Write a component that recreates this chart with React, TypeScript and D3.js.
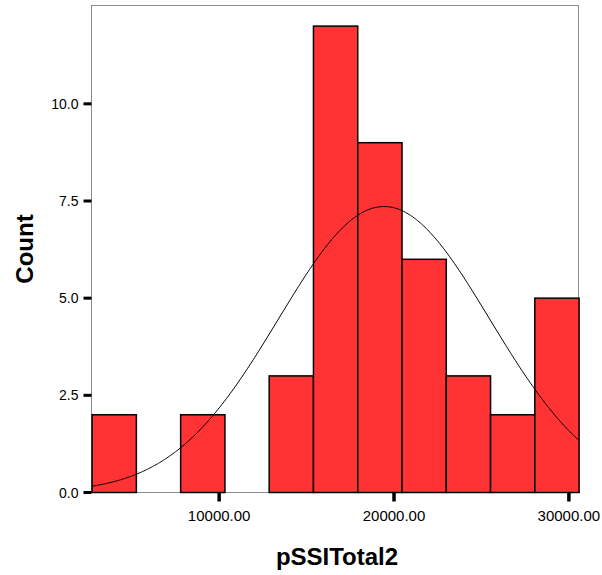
import React from "react";
import * as d3 from "d3";

const binMin = 2700;
const binMax = 30550;
const counts = [2, 0, 2, 0, 3, 12, 9, 6, 3, 2, 5];
const xTicks = [10000, 20000, 30000];
const yTicks = [0, 2.5, 5, 7.5, 10];
const meanValue = 19430;
const sdValue = 6040;
const yMax = 12.53;

const W = 602;
const H = 575;
const L = 91.5, T = 5.5, R = 578.5, B = 492.5;

export default function App() {
  const x = d3.scaleLinear().domain([binMin, binMax]).range([L, R]);
  const y = d3.scaleLinear().domain([0, yMax]).range([B, T]);
  const bw = (binMax - binMin) / counts.length;
  const n = d3.sum(counts);
  const bins = counts.map((c, i) => ({ x0: binMin + i * bw, x1: binMin + (i + 1) * bw, c }));
  const curveXs = d3.range(0, 401).map((i) => binMin + ((binMax - binMin) * i) / 400);
  const dens = (v: number) =>
    (n * bw) / (sdValue * Math.sqrt(2 * Math.PI)) * Math.exp(-0.5 * ((v - meanValue) / sdValue) ** 2);
  const line = d3
    .line<number>()
    .x((v) => x(v))
    .y((v) => y(dens(v)));

  return (
    <svg width={W} height={H} style={{ position: "absolute", left: 0, top: 0, background: "#fff" }}
      fontFamily="Arial, 'Liberation Sans', sans-serif">
      <rect x={L} y={T} width={R - L} height={B - T} fill="#fff" stroke="#8c8c8c" strokeWidth={1} />
      {bins.filter((b) => b.c > 0).map((b, i) => (
        <rect key={i} x={x(b.x0) + 0.6} y={y(b.c)} width={x(b.x1) - x(b.x0)} height={B - y(b.c)}
          fill="#ff3333" stroke="#000" strokeWidth={1.5} />
      ))}
      <path d={line(curveXs) || ""} fill="none" stroke="#000" strokeWidth={1} />
      {yTicks.map((t) => (
        <g key={t}>
          <line x1={L - 8} x2={L} y1={y(t)} y2={y(t)} stroke="#000" strokeWidth={3} />
          <text x={L - 13} y={y(t) + 5} textAnchor="end" fontSize={14} fill="#000">{t.toFixed(1)}</text>
        </g>
      ))}
      {xTicks.map((t) => (
        <g key={t}>
          <line x1={x(t)} x2={x(t)} y1={B} y2={B + 9} stroke="#000" strokeWidth={3.5} />
          <text x={x(t)} y={B + 28.5} textAnchor="middle" fontSize={15} fill="#000">{t.toFixed(2)}</text>
        </g>
      ))}
      <text x={337} y={565} textAnchor="middle" fontSize={24} fontWeight="bold" fill="#000">pSSITotal2</text>
      <text transform={`translate(33,249) rotate(-90)`} textAnchor="middle" fontSize={24} fontWeight="bold" fill="#000">Count</text>
    </svg>
  );
}
